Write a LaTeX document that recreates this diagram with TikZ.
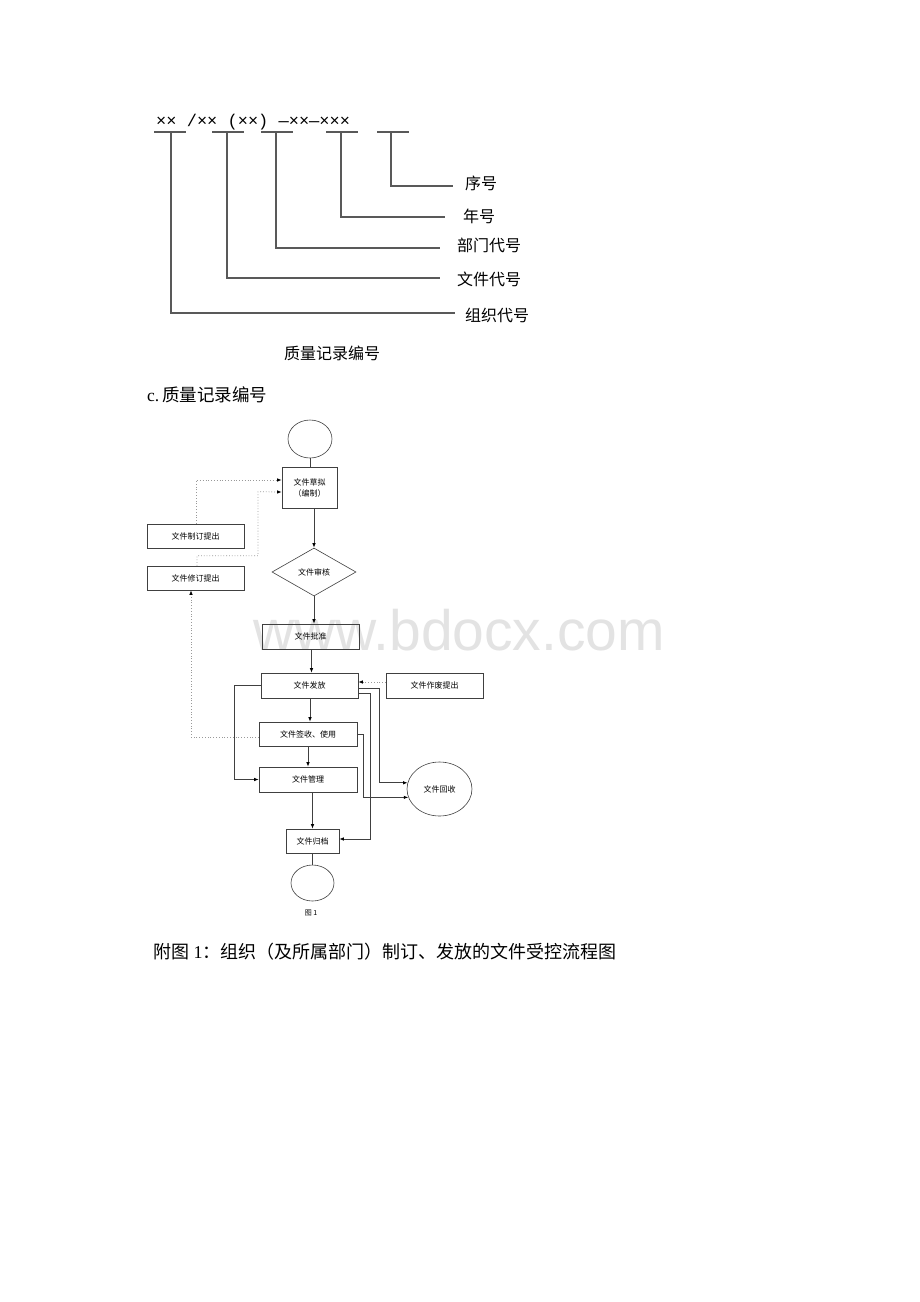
\documentclass[tikz,border=0pt]{standalone}
\usepackage{fontspec}
\setmainfont{Liberation Serif}
\newfontfamily\cjk{Noto Sans CJK SC}
\newfontfamily\monof{Liberation Mono}
\newfontfamily\wmf{Liberation Sans}
\usetikzlibrary{shapes.geometric,arrows.meta}
\begin{document}
\begin{tikzpicture}[x=1pt,y=-1pt,
  lbl/.style={font=\cjk\fontsize{16}{16}\selectfont, inner sep=0pt, anchor=west},
  tl/.style={draw=black!65, line width=1.2pt},
  fb/.style={draw=black!75, line width=0.6pt, font=\cjk\fontsize{8}{11}\selectfont, inner sep=0pt, align=center},
  ln/.style={draw=black!75, line width=0.8pt},
  arr/.style={ln, -{Latex[length=4.5pt,width=3.5pt,black]}},
  dln/.style={draw=black!40, dotted, line width=0.8pt},
  darr/.style={dln, -{Latex[length=4.5pt,width=3.5pt,black]}}
]
\useasboundingbox[fill=white] (0,0) rectangle (920,1302);

% watermark
\node[font=\wmf\fontsize{57}{57}\selectfont, text=black!11, inner sep=0pt, anchor=base west] (wm) at (253,650) {www.bdocx.com};

% ---------- numbering diagram ----------
\node[font=\monof\fontsize{17}{17}\selectfont, inner sep=0pt, anchor=west] (code) at (156,122) {××\ /××\ (××)\ —××—×××};
\draw[tl] (154,132) -- (186,132);
\draw[tl] (212,132) -- (244,132);
\draw[tl] (261,132) -- (293,132);
\draw[tl] (326,132) -- (358,132);
\draw[tl] (377,132) -- (409,132);

\node[lbl] (l1) at (465,183) {序号};
\node[lbl] (l2) at (463,216) {年号};
\node[lbl] (l3) at (457,245) {部门代号};
\node[lbl] (l4) at (457,279) {文件代号};
\node[lbl] (l5) at (465,315) {组织代号};

\draw[tl] (391,132) |- (453,186);
\draw[tl] (341,132) |- (445,217);
\draw[tl] (276,132) |- (440,248);
\draw[tl] (227,132) |- (440,278);
\draw[tl] (171,132) |- (455,313);

\node[font=\cjk\fontsize{16}{16}\selectfont, inner sep=0pt] (cap1) at (332,353) {质量记录编号};

\node[font=\fontsize{17.5}{17.5}\selectfont, inner sep=0pt, anchor=west] (sec) at (147,395) {c.\,{\cjk 质量记录编号}};

% ---------- flowchart ----------
\node[draw=black!75, line width=0.6pt, ellipse, minimum width=44pt, minimum height=38pt, inner sep=0pt] (start) at (310,439) {};
\node[fb, minimum width=55pt, minimum height=41pt] (draft) at (309.5,487.5) {文件草拟\\（编制）};
\node[fb, diamond, minimum width=84pt, minimum height=48pt] (review) at (314,572) {文件审核};
\node[fb, minimum width=97pt, minimum height=25pt] (approve) at (310.5,636.5) {文件批准};
\node[fb, minimum width=97pt, minimum height=25pt] (issue) at (309.5,685.5) {文件发放};
\node[fb, minimum width=97pt, minimum height=25pt] (obsolete) at (434.5,685.5) {文件作废提出};
\node[fb, minimum width=98pt, minimum height=24pt] (sign) at (308,734) {文件签收、使用};
\node[fb, minimum width=98pt, minimum height=25pt] (manage) at (308,779.5) {文件管理};
\node[fb, minimum width=53pt, minimum height=24pt] (archive) at (312.5,841) {文件归档};
\node[draw=black!75, line width=0.6pt, ellipse, minimum width=43pt, minimum height=36pt, inner sep=0pt] (end) at (312.5,883) {};
\node[fb, ellipse, minimum width=65pt, minimum height=54pt] (recycle) at (439.5,789) {文件回收};
\node[fb, minimum width=97pt, minimum height=24pt] (make) at (195.5,536) {文件制订提出};
\node[fb, minimum width=97pt, minimum height=24pt] (revise) at (195.5,578) {文件修订提出};
\node[font=\cjk\fontsize{7}{7}\selectfont, inner sep=0pt] (fig) at (311,913) {图 1};

% main flow
\draw[ln] (start) -- (start |- draft.north);
\draw[arr] (review.north |- draft.south) -- (review.north);
\draw[arr] (review.south) -- (review.south |- approve.north);
\draw[arr] ([xshift=2pt]issue.north |- approve.south) -- ([xshift=2pt]issue.north);
\draw[arr] ([xshift=0.5pt]issue.south) -- ([xshift=0.5pt]issue.south |- sign.north);
\draw[arr] (sign.south) -- (manage.north);
\draw[arr] (archive.north |- manage.south) -- (archive.north);
\draw[ln] (archive.south) -- (end.north);

% dotted feedback
\draw[darr] ([xshift=0.5pt]make.north) |- ([yshift=7.5pt]draft.west);
\draw[darr] ([xshift=1.5pt]revise.north) -- ++(0,-10) -| ++(61,-64) -- ([yshift=-4.5pt]draft.west);
\draw[darr] ([yshift=-3pt]sign.west) -| ([xshift=-4.5pt]revise.south);
\draw[darr] ([yshift=3.5pt]obsolete.west) -- ([yshift=3.5pt]obsolete.west -| issue.east);

% side connectors
\draw[arr] (issue.west) -- ++(-26,0) |- (manage.west);
\draw[arr] ([yshift=-2.5pt]issue.east) -- ++(21,0) |- (recycle.169);
\draw[arr] ([yshift=-7.5pt]issue.east) -- ++(12,0) |- ([yshift=2pt]archive.east);
\draw[arr] (sign.east) -- ++(6,0) |- (recycle.195);

% caption
\node[font=\fontsize{18}{18}\selectfont, inner sep=0pt, anchor=west] (cap2) at (153,952) {{\cjk 附图}~1{\cjk ：组织（及所属部门）制订、发放的文件受控流程图}};
\end{tikzpicture}
\end{document}
